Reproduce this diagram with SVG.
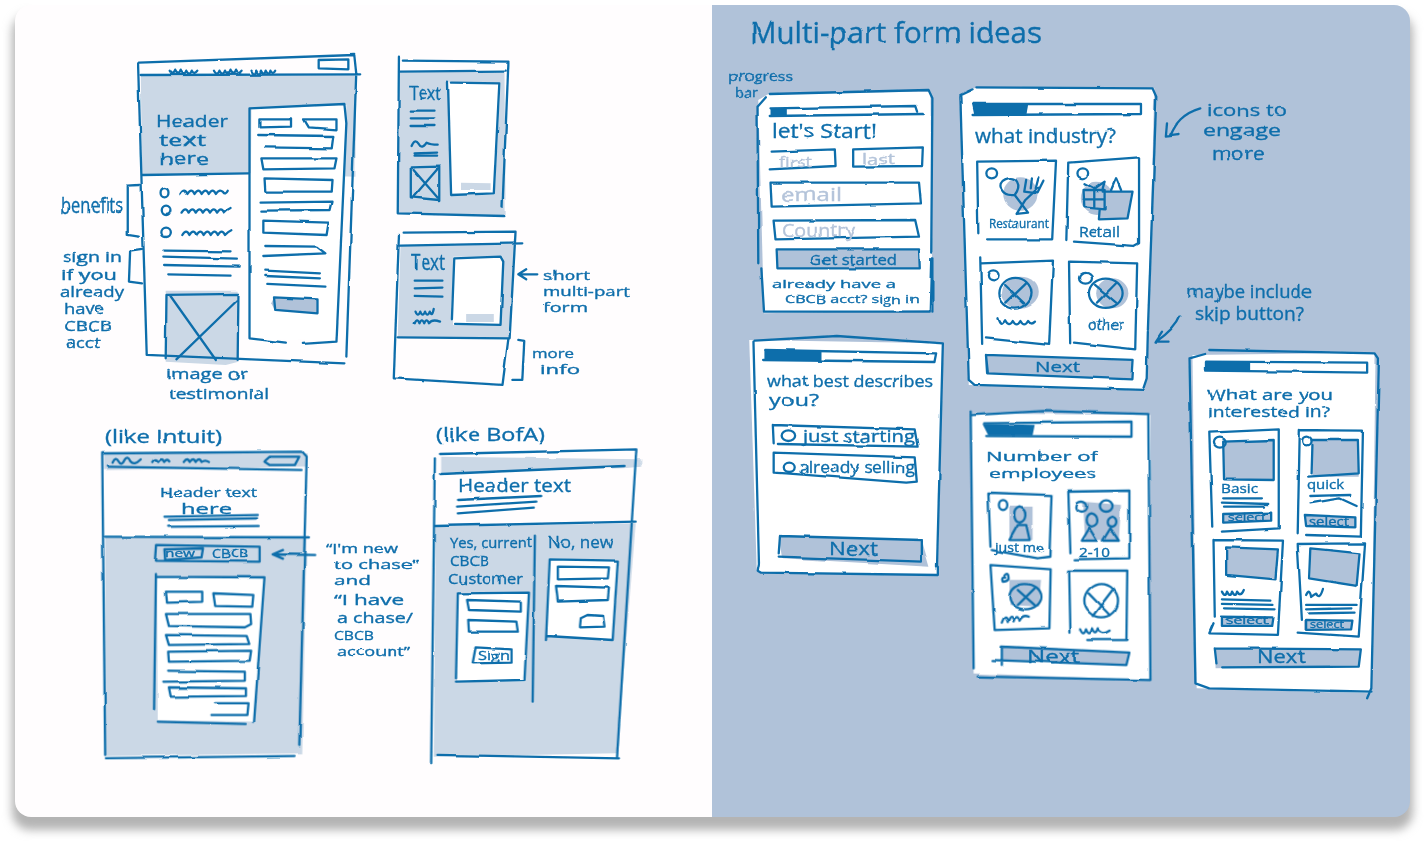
<svg xmlns="http://www.w3.org/2000/svg" width="1424" height="842" viewBox="0 0 1424 842">
<style>
path,ellipse,polygon{vector-effect:non-scaling-stroke}
.s{fill:none;stroke:#0e6eab;stroke-width:2.3;stroke-linecap:round;stroke-linejoin:round}
.l{fill:#cbd8e6;stroke:none}
.b{fill:#b0c2d9;stroke:none}
.w{fill:#fff;stroke:none}
.d{fill:#0e6eab;stroke:none}
text{font-family:"Open Sans","Noto Sans",sans-serif;fill:#0e6eab;stroke:#0e6eab;stroke-width:.35}
.p{fill:#b4c4da;stroke:#b4c4da}
</style>
<defs>
<filter id="shadow" x="-5%" y="-5%" width="110%" height="110%"><feGaussianBlur stdDeviation="5"/></filter>
<filter id="rough" filterUnits="userSpaceOnUse" x="0" y="0" width="1424" height="842"><feTurbulence type="fractalNoise" baseFrequency="0.035" numOctaves="2" seed="4"/><feDisplacementMap in="SourceGraphic" scale="2.5" xChannelSelector="R" yChannelSelector="G"/></filter>
<clipPath id="card"><rect x="15" y="5" width="1395" height="812" rx="16"/></clipPath>
</defs>
<rect width="1424" height="842" fill="#fff"/>
<rect x="12" y="14" width="1401" height="816" rx="18" fill="#b4b4b4" filter="url(#shadow)"/>
<g clip-path="url(#card)">
<rect x="15" y="5" width="697" height="812" fill="#fffdfe"/>
<rect x="712" y="5" width="698" height="812" fill="#b0c2d9"/>
</g>
<g filter="url(#rough)">

<g id="sketch-page-a" transform="translate(40,40) scale(.3953,.3333)">
<polygon class="l" points="255,108 800,105 798,410 530,400 258,405"/>
<polygon class="w" points="535,205 775,195 750,905 530,895"/>
<polygon class="l" points="318,752 500,752 502,965 470,975 318,965"/>
<path class="s" d="M248 70L270 945M250 68L795 45L800 100L775 950M270 945L770 970M255 105L810 103M705 60L780 58L780 88L705 85ZM258 405L528 400"/>
<path class="s" d="M328 92q8 18 14 0q8 18 14 0q8 18 14 0q8 18 14 0q6 14 14 0M440 92q8 18 14 0q8 18 14 0q8 18 14 0q8 18 14 0q6 14 14 0M535 92q8 18 12 0q8 18 12 0q8 18 12 0q8 18 12 0q6 14 12 0"/>
<path class="s" d="M530 205L770 192L775 250L750 905L665 912M622 908L530 895L530 205"/>
<path class="s" d="M555 238L635 238L635 260L555 262ZM668 238L750 238L750 268L680 262ZM552 285L742 288L738 325L570 322M560 355L750 355L745 385L565 388ZM568 415L740 420L738 455L570 455ZM558 488L740 485L735 510L560 512M565 542L730 548L725 585L565 578ZM570 618L700 620L722 640L565 648M570 692L708 700M570 708L708 715M575 732L722 740"/>
<polygon class="b" points="585,790 592,772 702,778 702,820 595,812"/>
<path class="s" d="M592 772L702 778L702 820L595 810Z"/>
<ellipse class="s" cx="315" cy="458" rx="10" ry="14"/><ellipse class="s" cx="319" cy="511" rx="11" ry="14"/><ellipse class="s" cx="319" cy="577" rx="12" ry="14"/>
<path class="s" d="M355 462q10 -20 18 0q10 -20 18 0q10 -20 18 0q10 -20 18 0q10 -20 18 0q8 -16 18 -6q6 10 12 -4M358 518q10 -20 18 0q10 -20 18 0q10 -20 18 0q10 -20 18 0q10 -20 18 0q10 -20 18 0q8 -10 16 -14M360 585q10 -20 18 0q10 -20 18 0q10 -20 18 0q10 -20 18 0q10 -20 18 0q10 -20 18 0q8 -10 16 -14"/>
<path class="s" d="M315 632L482 634M312 650L498 656M314 675L505 680M322 703L482 707"/>
<path class="s" d="M320 765L318 955M320 765L502 762L500 960M330 768L445 960M500 780L345 958"/>
<path class="s" d="M252 435L222 437L222 585L250 590M258 627L228 632L225 725L258 730"/>
</g>

<g id="sketch-page-b" transform="translate(40,40) scale(.3953,.3333)">
<polygon class="l" points="910,97 1175,95 1178,525 905,520"/>
<polygon class="w" points="1035,125 1165,130 1150,465 1040,465"/>
<polygon class="l" points="1065,428 1140,430 1140,450 1065,450"/>
<path class="s" d="M908 50L905 520L1175 528M918 62L1185 65L1170 500M908 95L1178 92"/>
<path class="s" d="M1032 125L1040 465L1148 460L1162 130L1042 128"/>
<path class="s" d="M938 212L998 212M938 235L998 235M940 258L998 258M940 318q8 -24 18 -6q8 18 20 -4q10 6 28 6M945 340L1002 338M945 347L1002 347"/>
<path class="s" d="M938 382L1010 380L1010 480L938 472ZM945 390L1005 472M1005 388L945 470"/>
</g>

<g id="sketch-page-c" transform="translate(40,40) scale(.3953,.3333)">
<polygon class="l" points="912,615 1200,610 1190,895 905,890"/>
<polygon class="w" points="1045,650 1170,650 1165,855 1045,855"/>
<polygon class="l" points="1078,822 1148,822 1148,846 1078,846"/>
<path class="s" d="M908 585L895 1015L1170 1035L1185 895M920 578L1203 575L1188 895M912 617L1220 610M905 892L1188 895"/>
<path class="s" d="M1048 655L1042 838M1048 655L1165 650L1172 665L1165 855L1050 852"/>
<path class="s" d="M948 722L1018 722M948 745L1018 743M948 768L1018 770M950 815q6 18 12 0q6 18 12 0q6 18 12 0q6 18 10 -8M948 850q6 -18 12 0q6 -18 12 0q6 -18 12 0q8 -14 28 -5"/>
<path class="s" d="M1258 703L1212 703M1230 688L1210 703L1230 718M1210 900L1225 903L1220 1020L1195 1020"/>
</g>

<g id="sketch-intuit" transform="translate(80,420) scale(.3704,.3333)">
<polygon class="l" points="65,100 615,100 612,140 65,150"/>
<polygon class="l" points="68,352 612,352 600,1000 68,1008"/>
<polygon class="w" points="208,470 498,472 470,905 210,900"/>
<path class="s" d="M60 100L600 95L612 110L592 975M60 100L68 1005M70 1015L582 1008M75 140L598 150M68 350L618 352"/>
<path class="s" d="M88 128q8 -20 16 -4q8 16 16 -4q8 -16 16 4q10 14 28 -6M195 126q10 -16 16 0q10 -16 16 0q8 -12 14 -2M280 126q10 -16 16 0q10 -16 16 0q10 -16 16 0q10 -8 20 0"/>
<path class="s" d="M500 122L512 110L592 110L580 135L512 135L498 125M228 290L480 285M240 300L478 295M238 320L485 318"/>
<path class="s" d="M208 375L485 380L485 425L205 422ZM228 388L332 385L328 412L230 420ZM635 405L522 403M548 390L520 403L548 416"/>
<path class="s" d="M205 462L200 868M205 470L498 472L470 905M210 905L450 912"/>
<path class="s" d="M232 515L330 515L330 545L235 548ZM360 520L468 525L465 560L365 558ZM232 582L460 582L462 612L445 622L240 618ZM232 645L450 648L457 672L240 675ZM238 695L462 692L458 722L240 725ZM238 752L445 755L445 782L225 785M240 802L448 805L448 828L245 830ZM365 850L455 850L452 885L355 885"/>
</g>

<g id="sketch-bofa" transform="translate(80,420) scale(.3704,.3333)">
<polygon class="l" points="975,110 1515,118 1515,140 1465,145 975,158"/>
<polygon class="l" points="960,320 1500,310 1450,1000 955,1010"/>
<polygon class="w" points="1018,518 1212,518 1200,785 1018,785"/>
<polygon class="w" points="1265,415 1455,422 1440,660 1262,650"/>
<path class="s" d="M958 115L948 1030M972 102L1502 88L1490 300L1450 1010M965 1005L1455 1015M975 162L1470 138M1018 240L1245 228M1018 260L1232 245M1020 280L1225 263M960 318L1500 305M1228 350L1222 845"/>
<path class="s" d="M1020 520L1015 775M1022 520L1212 518L1200 780L1015 785M1045 540L1190 545L1190 575L1050 570ZM1048 600L1178 605L1182 635L1050 635ZM1068 682L1165 688L1165 728L1060 730Z"/>
<path class="s" d="M1268 420L1258 660M1268 418L1452 422L1438 660L1260 648M1290 440L1428 442L1425 475L1290 478ZM1285 498L1428 503L1425 540L1290 545ZM1350 618L1352 595L1370 585L1412 588L1416 620L1350 622Z"/>
</g>

<g id="note-arrows" transform="translate(720,10) scale(.3827,.3333)">
<path class="s" d="M1255 295C1210 310 1190 340 1175 378M1168 340L1165 380L1198 375M1200 920C1190 950 1165 975 1140 995M1155 965L1138 995L1172 995"/>
</g>

<g id="form-start" transform="translate(720,10) scale(.3827,.3333)">
<polygon class="w" points="100,270 130,250 550,245 555,900 115,910"/>
<path class="s" d="M98 290L100 760M108 775L115 905L548 905L552 745M555 745L555 905M98 290L120 262M130 252L545 240L555 265L552 725"/>
<path class="s" d="M132 295L510 288L515 305M130 318L530 312"/>
<polygon class="d" points="132,294 172,294 172,320 132,320"/>
<path class="s" d="M135 425L300 418L302 468L130 478M348 418L530 412L528 468L348 470ZM132 518L520 518L525 580L135 590ZM140 632L510 630L520 680L145 688Z"/>
<polygon class="b" points="150,718 520,718 522,775 150,775"/>
<path class="s" d="M148 718L520 718L522 775L150 775Z"/>
</g>

<g id="form-industry" transform="translate(720,10) scale(.3827,.3333)">
<polygon class="w" points="630,255 660,235 1135,235 1115,1110 1108,1140 650,1125"/>
<path class="s" d="M628 260L650 1110L665 1125L1105 1140L1115 1105L1118 965M628 255L660 238M670 232L1130 235L1140 260L1118 960"/>
<path class="s" d="M660 282L1100 282L1100 312L660 315"/>
<polygon class="d" points="658,280 805,285 800,318 665,318"/>
<path class="s" d="M672 455L878 452L868 688L698 688M672 455L675 670M910 458L1095 442L1095 700L1082 708L925 695M910 458L905 690M680 742L685 1002M682 760L870 752L860 1005L695 985M912 755L915 1000M915 755L1090 760L1085 1018L925 998"/>
<ellipse class="s" cx="710" cy="490" rx="14" ry="15"/><ellipse class="s" cx="948" cy="490" rx="14" ry="15"/><ellipse class="s" cx="714" cy="796" rx="14" ry="15"/><ellipse class="s" cx="955" cy="805" rx="17" ry="16"/>
<ellipse class="b" cx="785" cy="552" rx="45" ry="50"/>
<path class="s" d="M770 555C735 560 720 520 745 508C775 495 790 525 770 555L805 608L775 612L798 570L830 535M800 510L795 545L830 550L845 515M815 505L812 535M832 505L825 535"/>
<ellipse class="b" cx="985" cy="565" rx="42" ry="50"/>
<polygon class="b" points="1000,545 1075,545 1065,625 990,628"/>
<path class="s" d="M950 540L1005 540L1005 598L952 592ZM950 568L1005 568M978 540L978 595M955 520L980 535L1005 515L1000 535M1000 545L1078 545L1065 625L990 628L992 600M1022 540L1035 505L1048 540"/>
<ellipse class="b" cx="785" cy="848" rx="48" ry="48"/><ellipse class="b" cx="1025" cy="850" rx="42" ry="45"/>
<ellipse class="s" cx="772" cy="850" rx="42" ry="46"/><ellipse class="s" cx="1008" cy="850" rx="44" ry="44"/>
<path class="s" d="M745 825L795 880M800 820L748 878M980 825L1035 878M1035 820L985 878"/>
<path class="s" d="M725 925q8 30 20 6q10 22 20 2q10 20 20 0q10 20 20 0q8 14 18 2"/>
<polygon class="b" points="695,1035 1078,1050 1075,1110 700,1090"/>
<path class="s" d="M695 1035L1078 1050L1075 1108L700 1090ZM695 1035L698 1090"/>
</g>

<g id="form-describes" transform="translate(740,330) scale(.4209,.3333)">
<polygon class="w" points="22,30 480,40 470,735 40,725"/>
<path class="s" d="M32 35L45 700L42 722L50 728L470 735L470 710M35 32L230 18L482 40L468 710"/>
<path class="s" d="M60 60L466 70L462 96L55 90"/>
<polygon class="d" points="58,60 196,62 196,94 58,90"/>
<path class="s" d="M78 285L415 298L422 350L90 342M78 285L80 340M80 368L415 382L420 455L395 458L110 430L80 428Z"/>
<ellipse class="s" cx="115" cy="317" rx="16" ry="16"/><ellipse class="s" cx="117" cy="412" rx="13" ry="14"/>
<polygon class="b" points="92,620 432,630 450,710 100,685"/>
<path class="s" d="M95 618L432 630L432 695L92 680M95 618L92 670"/>
</g>

<g id="form-employees" transform="translate(740,330) scale(.4209,.3333)">
<polygon class="w" points="548,250 975,255 975,1050 555,1030"/>
<path class="s" d="M548 245L555 1015M552 255L720 243L970 252L975 1050L565 1040"/>
<path class="s" d="M580 280L930 275L930 320L585 318"/>
<polygon class="d" points="576,282 700,285 695,316 590,316"/>
<path class="s" d="M590 488L740 495L735 680L705 685L598 660M590 488L595 650M780 485L925 482L925 685L795 688M780 485L785 670M595 705L738 718L735 895L605 900ZM782 722L920 722L918 930L825 930M782 722L785 905"/>
<polygon class="b" points="640,530 695,530 695,630 640,625"/><polygon class="b" points="815,515 905,525 900,630 820,630"/><polygon class="b" points="640,750 715,750 710,830 640,825"/>
<ellipse class="s" cx="625" cy="525" rx="10" ry="15"/><ellipse class="s" cx="812" cy="530" rx="13" ry="15"/><ellipse class="s" cx="870" cy="528" rx="15" ry="17"/>
<path class="s" d="M664 532C645 540 650 575 664 578C680 575 685 540 664 532ZM640 630L660 585L680 585L688 630ZM835 550C820 555 820 585 835 590C855 585 852 555 835 550ZM812 632L830 595L848 632ZM885 560C870 565 870 590 885 590C897 585 897 565 885 560ZM862 632L880 595L900 632Z"/>
<ellipse class="s" cx="678" cy="800" rx="38" ry="38"/><path class="s" d="M660 780L700 825M700 775L660 825"/>
<ellipse class="s" cx="858" cy="812" rx="40" ry="50"/><path class="s" d="M828 790L878 855M885 780L838 858"/>
<path class="s" d="M628 737q10 -14 10 10q-4 8 -14 8q-4 -14 6 -12"/>
<path class="s" d="M622 878q8 -30 14 -2q8 -30 14 -2q8 -30 14 -2q8 -20 22 -12M808 898q8 24 14 0q8 24 14 0q8 24 14 0q8 20 28 4"/>
<polygon class="b" points="622,950 925,968 918,1005 622,990"/>
<path class="s" d="M622 950L925 968L918 1005L600 990M622 950L622 1005"/>
</g>

<g id="form-interested" transform="translate(740,330) scale(.4209,.3333)">
<polygon class="w" points="1075,75 1510,68 1500,1090 1085,1075"/>
<path class="s" d="M1068 85L1082 1060L1115 1075L1500 1085M1068 85L1105 72M1115 60L1510 70L1518 85L1500 1075L1490 1105"/>
<path class="s" d="M1105 95L1490 98L1490 128L1105 122"/>
<polygon class="d" points="1102,95 1212,97 1212,124 1102,120"/>
<path class="s" d="M1115 308L1280 298L1280 595L1145 605M1115 308L1122 590M1330 300L1480 302L1475 620L1345 615M1330 300L1325 610M1125 630L1290 632L1278 915L1115 910L1125 880M1125 630L1128 860M1325 642L1485 640L1470 920L1325 908M1325 642L1335 870"/>
<polygon class="b" points="1148,335 1268,330 1268,450 1150,448"/><polygon class="b" points="1358,330 1468,330 1470,440 1360,440"/><polygon class="b" points="1155,652 1278,658 1275,750 1155,735"/><polygon class="b" points="1355,655 1472,670 1465,770 1355,745"/>
<path class="s" d="M1148 335L1268 330L1268 450L1150 448ZM1358 330L1468 330L1470 430L1350 440M1360 345L1358 430M1155 652L1278 658L1272 748L1155 735ZM1355 655L1472 670L1465 768L1352 745Z"/>
<ellipse class="s" cx="1140" cy="338" rx="14" ry="15"/><ellipse class="s" cx="1348" cy="333" rx="10" ry="13"/>
<path class="s" d="M1148 505L1240 505M1145 518L1255 522M1150 530L1245 530M1355 498L1450 495M1355 520L1425 505L1465 528M1145 808L1260 812M1145 822L1265 825M1150 835L1270 838M1345 825L1465 825M1345 838L1455 835M1350 850L1460 848"/>
<path class="s" d="M1145 785q8 20 12 0q8 20 12 0q8 20 12 0q8 18 16 -5M1345 795q8 -22 12 6q8 -8 12 -10q8 20 16 -14"/>
<polygon class="b" points="1148,552 1262,548 1262,572 1148,578"/><polygon class="b" points="1342,555 1462,562 1462,592 1345,588"/><polygon class="b" points="1145,860 1265,862 1262,888 1145,888"/><polygon class="b" points="1340,870 1455,872 1452,898 1340,900"/>
<path class="s" d="M1148 552L1262 548L1262 572L1148 578ZM1342 555L1462 562L1462 592L1345 588ZM1145 860L1265 862L1262 888L1145 888ZM1345 870L1455 872L1452 898L1345 900Z"/>
<polygon class="b" points="1128,955 1475,958 1470,1010 1130,1015"/>
<path class="s" d="M1128 955L1475 958L1470 1010L1148 1012M1128 955L1132 1000"/>
</g>

<g id="labels-left">
<text x="156" y="127" font-size="17" textLength="72" lengthAdjust="spacingAndGlyphs">Header</text>
<text x="159" y="146" font-size="17" textLength="47" lengthAdjust="spacingAndGlyphs">text</text>
<text x="159" y="165" font-size="17" textLength="50" lengthAdjust="spacingAndGlyphs">here</text>
<text x="61" y="213" font-size="21" textLength="62" lengthAdjust="spacingAndGlyphs">benefits</text>
<text x="63" y="262" font-size="14" textLength="59" lengthAdjust="spacingAndGlyphs">sign in</text>
<text x="61" y="280" font-size="14" textLength="56" lengthAdjust="spacingAndGlyphs">if you</text>
<text x="60" y="297" font-size="14" textLength="64" lengthAdjust="spacingAndGlyphs">already</text>
<text x="64" y="314" font-size="14" textLength="41" lengthAdjust="spacingAndGlyphs">have</text>
<text x="64" y="331" font-size="14" textLength="48" lengthAdjust="spacingAndGlyphs">CBCB</text>
<text x="66" y="348" font-size="14" textLength="34" lengthAdjust="spacingAndGlyphs">acct</text>
<text x="166" y="379" font-size="15" textLength="82" lengthAdjust="spacingAndGlyphs">image or</text>
<text x="169" y="399" font-size="15" textLength="100" lengthAdjust="spacingAndGlyphs">testimonial</text>
<text x="409" y="99" font-size="19" textLength="32" lengthAdjust="spacingAndGlyphs">Text</text>
<text x="411" y="270" font-size="21" textLength="34" lengthAdjust="spacingAndGlyphs">Text</text>
<text x="543" y="280" font-size="13" textLength="47" lengthAdjust="spacingAndGlyphs">short</text>
<text x="543" y="296" font-size="13" textLength="87" lengthAdjust="spacingAndGlyphs">multi-part</text>
<text x="543" y="312" font-size="13" textLength="45" lengthAdjust="spacingAndGlyphs">form</text>
<text x="532" y="358" font-size="13" textLength="42" lengthAdjust="spacingAndGlyphs">more</text>
<text x="540" y="374" font-size="13" textLength="40" lengthAdjust="spacingAndGlyphs">info</text>
<text x="105" y="443" font-size="18" textLength="117" lengthAdjust="spacingAndGlyphs">(like Intuit)</text>
<text x="436" y="441" font-size="18" textLength="109" lengthAdjust="spacingAndGlyphs">(like BofA)</text>
<text x="160" y="497" font-size="13" textLength="97" lengthAdjust="spacingAndGlyphs">Header text</text>
<text x="181" y="514" font-size="15" textLength="51" lengthAdjust="spacingAndGlyphs">here</text>
<text x="165" y="557" font-size="11" textLength="30" lengthAdjust="spacingAndGlyphs">new</text>
<text x="212" y="558" font-size="12" textLength="36" lengthAdjust="spacingAndGlyphs">CBCB</text>
<text x="326" y="553" font-size="13" textLength="72" lengthAdjust="spacingAndGlyphs">“I'm new</text>
<text x="334" y="569" font-size="13" textLength="85" lengthAdjust="spacingAndGlyphs">to chase”</text>
<text x="334" y="585" font-size="13" textLength="37" lengthAdjust="spacingAndGlyphs">and</text>
<text x="334" y="605" font-size="14" textLength="70" lengthAdjust="spacingAndGlyphs">“I have</text>
<text x="337" y="623" font-size="14" textLength="76" lengthAdjust="spacingAndGlyphs">a chase/</text>
<text x="334" y="640" font-size="13" textLength="40" lengthAdjust="spacingAndGlyphs">CBCB</text>
<text x="337" y="656" font-size="13" textLength="73" lengthAdjust="spacingAndGlyphs">account”</text>
<text x="458" y="492" font-size="19" textLength="113" lengthAdjust="spacingAndGlyphs">Header text</text>
<text x="450" y="548" font-size="14" textLength="82" lengthAdjust="spacingAndGlyphs">Yes, current</text>
<text x="450" y="566" font-size="14" textLength="39" lengthAdjust="spacingAndGlyphs">CBCB</text>
<text x="448" y="584" font-size="14" textLength="75" lengthAdjust="spacingAndGlyphs">Customer</text>
<text x="548" y="548" font-size="17" textLength="65" lengthAdjust="spacingAndGlyphs">No, new</text>
<text x="478" y="660" font-size="13" textLength="32" lengthAdjust="spacingAndGlyphs">Sign</text>
</g>

<g id="labels-right">
<text x="750" y="43" font-size="30" textLength="291" lengthAdjust="spacingAndGlyphs">Multi-part form ideas</text>
<text x="728" y="81" font-size="13" textLength="65" lengthAdjust="spacingAndGlyphs">progress</text>
<text x="735" y="97" font-size="13" textLength="23" lengthAdjust="spacingAndGlyphs">bar</text>
<text x="772" y="138" font-size="20" textLength="105" lengthAdjust="spacingAndGlyphs">let's Start!</text>
<text class="p" x="779" y="167" font-size="14" textLength="33" lengthAdjust="spacingAndGlyphs">first</text>
<text class="p" x="862" y="164" font-size="14" textLength="33" lengthAdjust="spacingAndGlyphs">last</text>
<text class="p" x="781" y="201" font-size="18" textLength="61" lengthAdjust="spacingAndGlyphs">email</text>
<text class="p" x="782" y="237" font-size="18" textLength="73" lengthAdjust="spacingAndGlyphs">Country</text>
<text x="810" y="265" font-size="15" textLength="87" lengthAdjust="spacingAndGlyphs">Get started</text>
<text x="772" y="288" font-size="11" textLength="124" lengthAdjust="spacingAndGlyphs">already have a</text>
<text x="785" y="303" font-size="11" textLength="135" lengthAdjust="spacingAndGlyphs">CBCB acct? sign in</text>
<text x="975" y="143" font-size="20" textLength="141" lengthAdjust="spacingAndGlyphs">what industry?</text>
<text x="989" y="228" font-size="12" textLength="60" lengthAdjust="spacingAndGlyphs">Restaurant</text>
<text x="1079" y="237" font-size="14" textLength="41" lengthAdjust="spacingAndGlyphs">Retail</text>
<text x="1088" y="330" font-size="14" textLength="36" lengthAdjust="spacingAndGlyphs">other</text>
<text x="1035" y="372" font-size="15" textLength="45" lengthAdjust="spacingAndGlyphs">Next</text>
<text x="1207" y="116" font-size="17" textLength="80" lengthAdjust="spacingAndGlyphs">icons to</text>
<text x="1203" y="136" font-size="17" textLength="78" lengthAdjust="spacingAndGlyphs">engage</text>
<text x="1211" y="160" font-size="18" textLength="53" lengthAdjust="spacingAndGlyphs">more</text>
<text x="1187" y="298" font-size="18" textLength="125" lengthAdjust="spacingAndGlyphs">maybe include</text>
<text x="1195" y="320" font-size="18" textLength="109" lengthAdjust="spacingAndGlyphs">skip button?</text>
<text x="767" y="387" font-size="16" textLength="166" lengthAdjust="spacingAndGlyphs">what best describes</text>
<text x="769" y="406" font-size="16" textLength="50" lengthAdjust="spacingAndGlyphs">you?</text>
<text x="803" y="442" font-size="16" textLength="112" lengthAdjust="spacingAndGlyphs">just starting</text>
<text x="799" y="473" font-size="16" textLength="116" lengthAdjust="spacingAndGlyphs">already selling</text>
<text x="829" y="555" font-size="18" textLength="49" lengthAdjust="spacingAndGlyphs">Next</text>
<text x="986" y="461" font-size="13" textLength="112" lengthAdjust="spacingAndGlyphs">Number of</text>
<text x="989" y="478" font-size="13" textLength="107" lengthAdjust="spacingAndGlyphs">employees</text>
<text x="995" y="552" font-size="13" textLength="49" lengthAdjust="spacingAndGlyphs">just me</text>
<text x="1079" y="557" font-size="13" textLength="31" lengthAdjust="spacingAndGlyphs">2-10</text>
<text x="1027" y="663" font-size="18" textLength="53" lengthAdjust="spacingAndGlyphs">Next</text>
<text x="1207" y="400" font-size="14" textLength="126" lengthAdjust="spacingAndGlyphs">What are you</text>
<text x="1208" y="417" font-size="14" textLength="122" lengthAdjust="spacingAndGlyphs">interested in?</text>
<text x="1221" y="493" font-size="13" textLength="37" lengthAdjust="spacingAndGlyphs">Basic</text>
<text x="1307" y="489" font-size="13" textLength="37" lengthAdjust="spacingAndGlyphs">quick</text>
<text x="1228" y="521" font-size="10" textLength="38" lengthAdjust="spacingAndGlyphs">select</text>
<text x="1309" y="526" font-size="12" textLength="40" lengthAdjust="spacingAndGlyphs">select</text>
<text x="1226" y="624" font-size="10" textLength="42" lengthAdjust="spacingAndGlyphs">select</text>
<text x="1310" y="628" font-size="10" textLength="34" lengthAdjust="spacingAndGlyphs">select</text>
<text x="1257" y="663" font-size="18" textLength="48" lengthAdjust="spacingAndGlyphs">Next</text>
</g>
</g>
</svg>
